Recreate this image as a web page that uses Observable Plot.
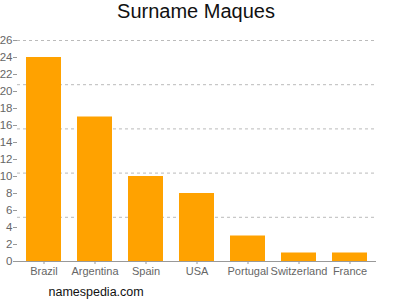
<!DOCTYPE html>
<html><head><meta charset="utf-8">
<script src="https://cdn.jsdelivr.net/npm/d3@7"></script>
<script src="https://cdn.jsdelivr.net/npm/@observablehq/plot@0.6"></script>
<style>
body{margin:0;background:#fff;font-family:"Liberation Sans",Arial,sans-serif;}
#chart{position:relative;width:400px;height:300px;}
</style></head>
<body><div id="chart"></div>
<script>
const countries = ["Brazil","Argentina","Spain","USA","Portugal","Switzerland","France"];
const counts = [24,17,10,8,3,1,1];
const yTicks = [0,2,4,6,8,10,12,14,16,18,20,22,24,26];
const gridLines = [5.2,10.4,15.6,20.8,26];
const title = "Surname Maques";
const caption = "namespedia.com";

const data = countries.map((c,i)=>({country:c,count:counts[i]}));

const plot = Plot.plot({
  width:400, height:300,
  marginTop:40, marginBottom:39, marginLeft:17, marginRight:24,
  style:{fontFamily:"'Liberation Sans',Arial,sans-serif", fontSize:"11px", background:"#fff"},
  x:{domain:countries, paddingInner:0.314, paddingOuter:0.176, label:null},
  y:{domain:[0,26], label:null},
  marks:[
    Plot.ruleY(gridLines,{stroke:"#bbb",strokeDasharray:"3,3",strokeWidth:1}),
    Plot.barY(data,{x:"country",y:"count",fill:"#ffa200"}),
    Plot.axisY({ticks:yTicks,tickSize:4,tickPadding:1,fill:"#666",stroke:"#999",label:null,fontSize:11.5}),
    Plot.axisX({tickSize:3,tickPadding:3,fill:"#666",stroke:"#999",label:null,fontSize:11}),
    Plot.ruleX([0],{x:()=>0,stroke:"#999",frameAnchor:"left"}),
    Plot.ruleY([0],{stroke:"#999"}),
    Plot.text([title],{frameAnchor:"top",dx:-1,dy:-37,fontSize:20,fill:"#111",text:d=>d,lineAnchor:"top"}),
    Plot.text([caption],{frameAnchor:"bottom-left",dx:31,dy:30,fontSize:12.5,fill:"#111",text:d=>d,textAnchor:"start",lineAnchor:"middle"})
  ]
});
document.getElementById("chart").appendChild(plot);
</script></body></html>
